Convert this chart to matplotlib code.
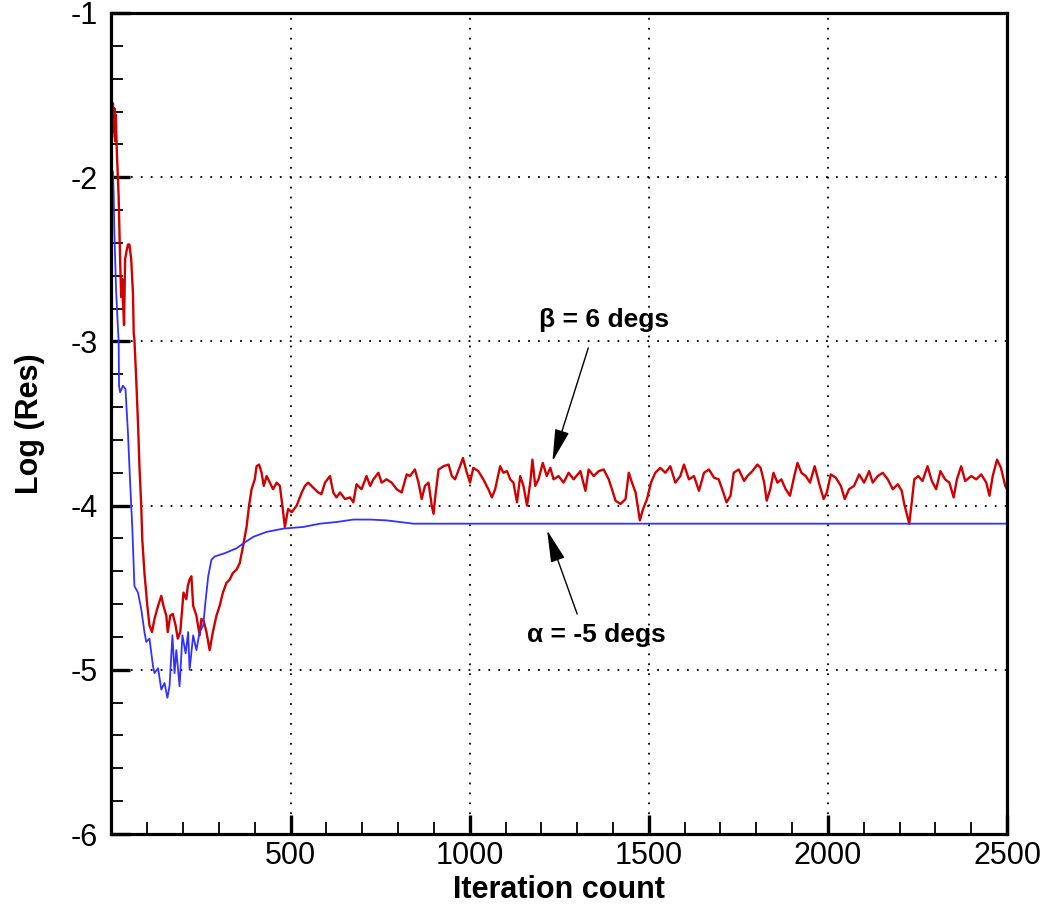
import matplotlib
matplotlib.use('Agg')
import matplotlib.pyplot as plt
from matplotlib.ticker import MultipleLocator, FixedLocator, FixedFormatter

plt.rcParams['font.family'] = ['Liberation Sans', 'DejaVu Sans']

# residual history, beta = 6 degs (red)
red_x = [2, 4, 6, 8, 10, 12, 15, 20, 24, 27, 30, 32, 35, 38, 42, 46, 50, 55, 60, 62,
         64, 69, 74, 78, 83, 86, 92, 100, 106, 113, 120, 130, 139, 145, 153, 157, 164, 171, 179, 185,
         192, 198, 201, 209, 213, 218, 223, 228, 237, 246, 251, 257, 265, 274, 283, 293, 302, 311, 321, 330,
         339, 349, 358, 367, 377, 384, 391, 400, 405, 412, 419, 425, 433, 442, 451, 461, 470, 477, 484, 493,
         503, 517, 531, 540, 549, 563, 577, 586, 596, 610, 619, 628, 638, 652, 666, 675, 684, 698, 712, 722,
         731, 745, 754, 768, 782, 796, 810, 824, 833, 847, 857, 866, 875, 885, 894, 899, 903, 913, 927, 941,
         950, 959, 973, 981, 992, 1001, 1010, 1024, 1038, 1052, 1062, 1071, 1085, 1094, 1104, 1113, 1122, 1132, 1141, 1150,
         1160, 1169, 1175, 1183, 1192, 1204, 1215, 1225, 1234, 1248, 1262, 1276, 1290, 1309, 1323, 1332, 1346, 1360, 1374, 1388,
         1397, 1407, 1421, 1435, 1444, 1453, 1463, 1475, 1484, 1495, 1506, 1518, 1532, 1546, 1560, 1574, 1588, 1598, 1612, 1626,
         1640, 1654, 1668, 1682, 1695, 1708, 1717, 1728, 1737, 1751, 1766, 1775, 1789, 1803, 1812, 1822, 1829, 1839, 1848, 1859,
         1870, 1882, 1894, 1906, 1915, 1926, 1938, 1950, 1963, 1976, 1988, 1997, 2008, 2022, 2036, 2047, 2059, 2073, 2087, 2101,
         2115, 2125, 2139, 2153, 2167, 2181, 2195, 2206, 2213, 2221, 2227, 2234, 2241, 2252, 2264, 2278, 2290, 2302, 2314, 2327,
         2339, 2351, 2360, 2372, 2383, 2400, 2414, 2428, 2442, 2451, 2460, 2472, 2483, 2495, 2500]
red_y = [-1.75, -1.55, -1.72, -1.58, -1.78, -1.62, -1.85, -2.12, -2.50, -2.73, -2.62, -2.75, -2.90, -2.50, -2.45, -2.41, -2.41, -2.50, -2.71, -2.95,
         -2.99, -3.23, -3.50, -3.76, -4.00, -4.21, -4.41, -4.61, -4.73, -4.77, -4.69, -4.61, -4.55, -4.61, -4.67, -4.77, -4.67, -4.66, -4.73, -4.81,
         -4.77, -4.61, -4.53, -4.57, -4.49, -4.45, -4.43, -4.61, -4.67, -4.79, -4.69, -4.70, -4.77, -4.88, -4.77, -4.67, -4.61, -4.53, -4.47, -4.45,
         -4.41, -4.39, -4.35, -4.25, -4.13, -4.00, -3.90, -3.84, -3.76, -3.75, -3.80, -3.88, -3.82, -3.86, -3.90, -3.86, -3.88, -4.00, -4.13, -4.02,
         -4.04, -4.00, -3.92, -3.88, -3.86, -3.89, -3.92, -3.93, -3.86, -3.82, -3.92, -3.95, -3.92, -3.96, -3.95, -3.98, -3.87, -3.90, -3.82, -3.88,
         -3.84, -3.80, -3.86, -3.84, -3.86, -3.90, -3.92, -3.81, -3.82, -3.78, -3.86, -3.96, -3.88, -3.86, -4.00, -4.05, -3.96, -3.78, -3.76, -3.75,
         -3.82, -3.84, -3.76, -3.71, -3.80, -3.86, -3.77, -3.79, -3.84, -3.90, -3.95, -3.90, -3.76, -3.80, -3.79, -3.84, -3.86, -3.98, -3.82, -3.88,
         -4.00, -3.86, -3.72, -3.88, -3.84, -3.74, -3.82, -3.77, -3.84, -3.82, -3.86, -3.80, -3.84, -3.79, -3.91, -3.78, -3.82, -3.79, -3.78, -3.84,
         -3.90, -3.97, -3.99, -3.96, -3.80, -3.86, -3.92, -4.09, -4.02, -3.96, -3.86, -3.80, -3.77, -3.80, -3.76, -3.86, -3.82, -3.75, -3.84, -3.82,
         -3.91, -3.80, -3.78, -3.83, -3.84, -3.92, -3.98, -3.94, -3.80, -3.78, -3.85, -3.82, -3.79, -3.75, -3.77, -3.86, -3.97, -3.90, -3.80, -3.86,
         -3.84, -3.90, -3.94, -3.82, -3.74, -3.80, -3.82, -3.86, -3.76, -3.87, -3.96, -3.92, -3.81, -3.83, -3.88, -3.96, -3.90, -3.88, -3.81, -3.86,
         -3.79, -3.86, -3.82, -3.80, -3.84, -3.90, -3.87, -3.91, -3.99, -4.06, -4.11, -3.98, -3.84, -3.82, -3.85, -3.76, -3.85, -3.90, -3.79, -3.84,
         -3.86, -3.95, -3.84, -3.76, -3.85, -3.82, -3.84, -3.81, -3.86, -3.94, -3.82, -3.72, -3.77, -3.88, -3.90]

# residual history, alpha = -5 degs (blue)
blue_x = [0, 4, 6, 8, 13, 18, 20, 21, 24, 32, 39, 46, 52, 58, 64, 74, 83, 92, 97, 106,
          116, 120, 130, 139, 148, 156, 162, 170, 176, 181, 190, 198, 207, 214, 218, 228, 237, 246, 256, 263,
          270, 279, 288, 316, 349, 368, 396, 433, 480, 535, 582, 628, 675, 722, 768, 843, 1200, 1500, 2500]
blue_y = [-1.95, -1.97, -2.10, -2.34, -2.70, -2.92, -3.00, -3.27, -3.31, -3.27, -3.29, -3.56, -3.86, -4.13, -4.49, -4.53, -4.63, -4.77, -4.83, -4.81,
          -4.98, -5.02, -4.99, -5.12, -5.08, -5.17, -5.10, -4.79, -5.02, -4.88, -5.10, -4.79, -4.90, -4.77, -5.00, -4.79, -4.88, -4.77, -4.73, -4.57,
          -4.43, -4.33, -4.31, -4.29, -4.26, -4.23, -4.19, -4.16, -4.14, -4.13, -4.11, -4.10, -4.085, -4.085, -4.09, -4.11, -4.11, -4.11, -4.11]

x_ticks = [500, 1000, 1500, 2000, 2500]
y_ticks = [-6, -5, -4, -3, -2, -1]
y_labels = ['-6', '-5', '-4', '-3', '-2', '-1']

fig = plt.figure(figsize=(10.44, 9.14), dpi=100)
ax = fig.add_axes([0.1068, 0.0875, 0.8578, 0.8983])

ax.plot(red_x, red_y, color='#d00000', lw=1.7)
ax.plot(blue_x, blue_y, color='#3232ff', lw=1.3)

ax.set_xlim(0, 2500)
ax.set_ylim(-6, -1)

ax.xaxis.set_major_locator(FixedLocator(x_ticks))
ax.xaxis.set_minor_locator(MultipleLocator(100))
ax.yaxis.set_major_locator(FixedLocator(y_ticks))
ax.yaxis.set_major_formatter(FixedFormatter(y_labels))
ax.yaxis.set_minor_locator(MultipleLocator(0.2))

ax.tick_params(which='both', direction='in', top=False, right=False, labelsize=22)
ax.tick_params(which='major', length=14, width=2.4)
ax.tick_params(axis='x', which='major', pad=5)
ax.tick_params(axis='y', which='major', pad=10)
ax.tick_params(which='minor', length=8.5, width=1.3)
for s in ax.spines.values():
    s.set_linewidth(2.3)

ax.grid(True, which='major', color='black', linestyle=(0, (1, 4.5)), linewidth=1.3)

ax.set_xlabel('Iteration count', fontsize=22, fontweight='bold', labelpad=3)
ax.set_ylabel('Log (Res)', fontsize=22, fontweight='bold', labelpad=18)

arrow = dict(arrowstyle='-|>,head_length=2.0,head_width=0.45', color='black', lw=1.0,
             shrinkA=0, shrinkB=0)
ax.annotate('', xy=(1231, -3.73), xytext=(1331, -3.04), arrowprops=arrow)
ax.text(1376, -2.87, 'β = 6 degs', fontsize=19, fontweight='bold', ha='center', va='center')
ax.annotate('', xy=(1216, -4.15), xytext=(1300, -4.66), arrowprops=arrow)
ax.text(1353, -4.79, 'α = -5 degs', fontsize=19, fontweight='bold', ha='center', va='center')

fig.savefig('out.png', dpi=100)
